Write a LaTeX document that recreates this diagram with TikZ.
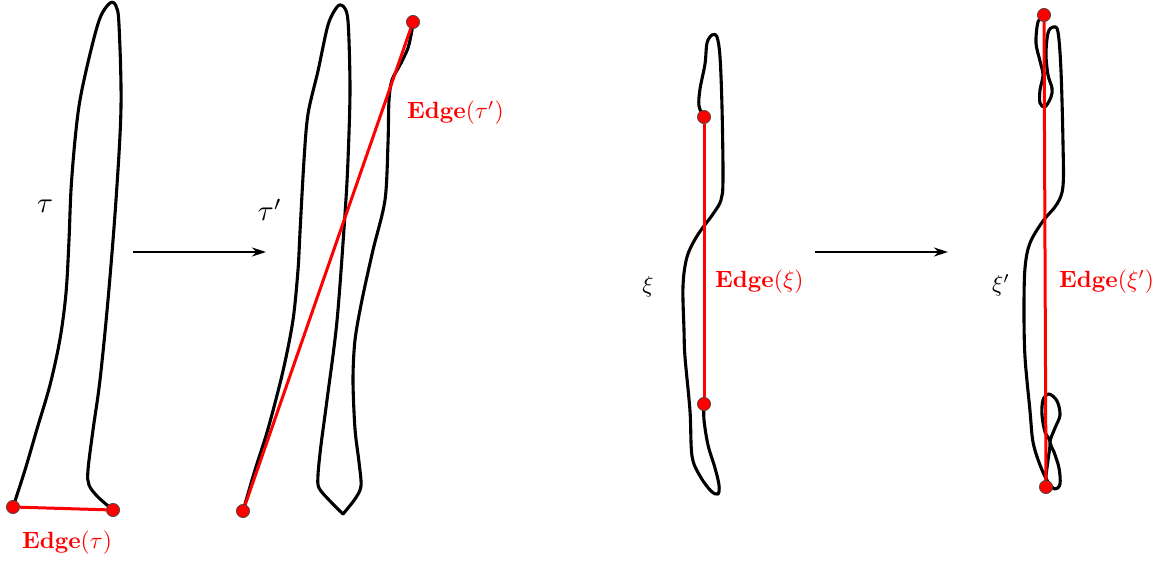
\documentclass[tikz,border=0pt]{standalone}
\usetikzlibrary{arrows.meta}
\definecolor{edgered}{RGB}{255,0,0}
\tikzset{
  curve/.style={line width=3.1pt, black, line join=round, line cap=round},
  edgeline/.style={line width=3pt, edgered},
  vdot/.style={circle, fill=edgered, draw=black!70, line width=0.6pt, minimum size=13pt, inner sep=0pt},
  maparrow/.style={line width=1.5pt, -{Stealth[length=14pt, width=9pt, inset=4.5pt]}},
  edgelabel/.style={text=edgered, inner sep=0pt},
  namelabel/.style={inner sep=0pt}
}
\newcommand{\edgelab}[1]{\scalebox{2.35}{$\mathbf{Edge}(#1)$}}
\begin{document}
\begin{tikzpicture}[x=1pt,y=-1pt]
\useasboundingbox (0,0) rectangle (1163,562);
% ---- tau ----
\node[vdot] (t1) at (13,507) {};
\node[vdot] (t2) at (113,510) {};
\draw[curve] plot[smooth, tension=0.55] coordinates {(t1) (25,470) (37,429) (50,385) (60,339) (66,293) (69,240) (71,190) (75,140) (80,100) (90,54) (100,18) (110,3) (116,6) (119,25) (121,107) (116,200) (108,300) (100,380) (93,430) (88,470) (89,485) (98,497) (t2)};
\draw[edgeline] (t1) -- (t2);
\node[vdot] at (t1) {};
\node[vdot] at (t2) {};
\node[edgelabel] (lt) at (67,543) {\edgelab{\tau}};
\node[namelabel] (nt) at (45,206) {\scalebox{2.9}{$\tau$}};
% ---- arrow 1 ----
\coordinate (a1s) at (133,252);
\coordinate (a1e) at (266,252);
\draw[maparrow] (a1s) -- (a1e);
% ---- tau' ----
\node[vdot] (u1) at (243,511) {};
\node[vdot] (u2) at (413,22) {};
\draw[curve] plot[smooth, tension=0.5] coordinates {(u1) (255,470) (268,429) (283,371) (293,320) (298,270) (300,232) (304,160) (308,114) (318,71) (328,25) (337,7) (343,6) (348,21) (350,89) (348,160) (345,214) (337,321) (327,400) (321,445) (318,475) (319,488) (330,501) (343,514)};
\draw[curve] plot[smooth, tension=0.5] coordinates {(343,514) (355,499) (361,486) (359,462) (355,429) (353,380) (355,340) (362,300) (373,250) (385,200) (388,143) (389,100) (392,80) (400,65) (408,48) (412,30) (u2)};
\draw[edgeline] (u1) -- (u2);
\node[vdot] at (u1) {};
\node[vdot] at (u2) {};
\node[edgelabel, anchor=west] (lu) at (407,113) {\edgelab{\tau'}};
\node[namelabel] (nu) at (270,210) {\scalebox{2.9}{$\tau'$}};
% ---- xi ----
\node[vdot] (x1) at (704,117) {};
\node[vdot] (x2) at (704,404) {};
\draw[curve] plot[smooth, tension=0.55] coordinates {(x1) (699,106) (700,89) (705,64) (707,43) (712,35) (717,37) (720,57) (722,107) (723,179) (721,200) (713,214) (697,236) (687,257) (683,286) (684,330) (685,357) (690,411) (692,456) (700,476) (711,491) (718,494) (719,485) (715,468) (708,445) (704,420) (x2)};
\draw[edgeline] (x1) -- (x2);
\node[vdot] at (x1) {};
\node[vdot] at (x2) {};
\node[edgelabel, anchor=west] (lx) at (715,282) {\edgelab{\xi}};
\node[namelabel] (nx) at (648,287) {\scalebox{2.3}{$\xi$}};
% ---- arrow 2 ----
\coordinate (a2s) at (815,252);
\coordinate (a2e) at (948,252);
\draw[maparrow] (a2s) -- (a2e);
% ---- xi' ----
\node[vdot] (y1) at (1044,15) {};
\node[vdot] (y2) at (1046,487) {};
\draw[curve] plot[smooth, tension=0.55] coordinates {(y1) (1038,22) (1036,43) (1040,61) (1043,75) (1040,90) (1040,103) (1045,107) (1051,97) (1052,88) (1048,75) (1046,54) (1048,33) (1053,27) (1058,32) (1061,71) (1063,143) (1063,186) (1057,204) (1043,221) (1030,243) (1025,268) (1024,310) (1025,357) (1030,411) (1033,442) (1040,465) (1048,482) (1055,489) (1060,484) (1059,468) (1054,452) (1050,442) (1055,428) (1060,415) (1057,401) (1049,394) (1043,400) (1042,415) (1045,432) (1050,442) (1048,460) (1046,476) (y2)};
\draw[edgeline] (y1) -- (y2);
\node[vdot] at (y1) {};
\node[vdot] at (y2) {};
\node[edgelabel, anchor=west] (ly) at (1059,282) {\edgelab{\xi'}};
\node[namelabel] (ny) at (1001,285) {\scalebox{2.3}{$\xi'$}};
\end{tikzpicture}
\end{document}
